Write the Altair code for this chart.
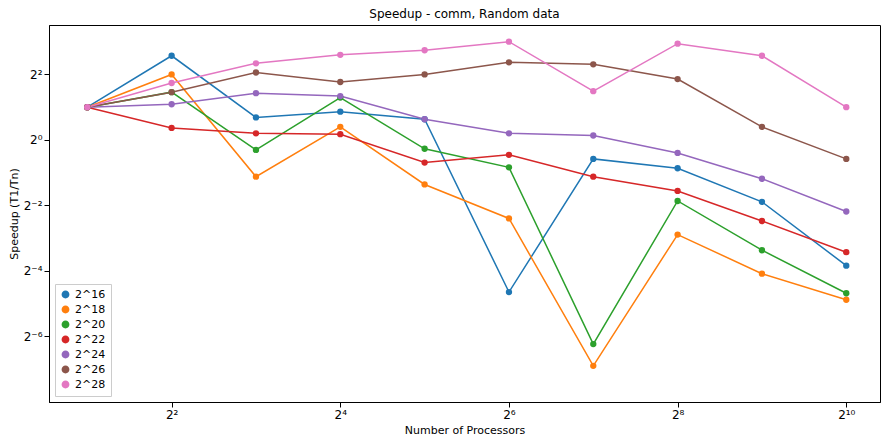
import altair as alt
import pandas as pd

processors = [2, 4, 8, 16, 32, 64, 128, 256, 512, 1024]
series_names = ["2^16", "2^18", "2^20", "2^22", "2^24", "2^26", "2^28"]
s16 = [2, 5.94, 1.61, 1.82, 1.55, 0.040, 0.67, 0.55, 0.27, 0.070]
s18 = [2, 4, 0.46, 1.32, 0.39, 0.19, 0.0084, 0.135, 0.059, 0.034]
s20 = [2, 2.75, 0.81, 2.45, 0.83, 0.56, 0.0133, 0.275, 0.097, 0.039]
s22 = [2, 1.29, 1.15, 1.13, 0.62, 0.73, 0.46, 0.34, 0.18, 0.093]
s24 = [2, 2.13, 2.69, 2.53, 1.55, 1.15, 1.10, 0.76, 0.44, 0.22]
s26 = [2, 2.75, 4.17, 3.41, 4, 5.17, 4.96, 3.63, 1.32, 0.67]
s28 = [2, 3.34, 5.06, 6.06, 6.68, 8, 2.81, 7.67, 5.94, 2]
colors = ["#1f77b4", "#ff7f0e", "#2ca02c", "#d62728", "#9467bd", "#8c564b", "#e377c2"]

rows = []
for name, vals in zip(series_names, [s16, s18, s20, s22, s24, s26, s28]):
    for p, v in zip(processors, vals):
        rows.append({"procs": p, "speedup": v, "size": name})
df = pd.DataFrame(rows)

sup = {"-": "⁻", "0": "⁰", "1": "¹", "2": "²", "3": "³", "4": "⁴",
       "5": "⁵", "6": "⁶", "7": "⁷", "8": "⁸", "9": "⁹"}


def label_expr(exps):
    expr = "''"
    for e in exps:
        txt = "2" + "".join(sup[c] for c in str(e))
        expr = f"abs(log(datum.value)/log(2) - ({e})) < 0.01 ? '{txt}' : " + expr
    return expr


xticks = [4, 16, 64, 256, 1024]
yticks = [2.0 ** e for e in [-6, -4, -2, 0, 2]]

axis_style = dict(grid=False, domainColor="black", tickColor="black",
                  labelColor="black", titleColor="black", labelFontSize=12,
                  titleFontSize=11, titleFontWeight="normal", labelFont="DejaVu Sans",
                  titleFont="DejaVu Sans")

chart = alt.Chart(df).mark_line(point=alt.OverlayMarkDef(size=40, filled=True, opacity=1),
                                strokeWidth=1.5).encode(
    x=alt.X("procs:Q", title="Number of Processors",
            scale=alt.Scale(type="log", base=2, domain=[1.46, 1351], nice=False),
            axis=alt.Axis(values=xticks, labelExpr=label_expr([2, 4, 6, 8, 10]), **axis_style)),
    y=alt.Y("speedup:Q", title="Speedup (T1/Tn)",
            scale=alt.Scale(type="log", base=2, domain=[2.0 ** -8, 2.0 ** 3.51], nice=False),
            axis=alt.Axis(values=yticks, labelExpr=label_expr([-6, -4, -2, 0, 2]), **axis_style)),
    color=alt.Color("size:N", sort=series_names,
                    scale=alt.Scale(domain=series_names, range=colors),
                    legend=alt.Legend(title=None, orient="bottom-left", symbolType="circle",
                                      symbolSize=40, labelFontSize=11, labelFont="DejaVu Sans",
                                      fillColor="white", strokeColor="#cccccc",
                                      padding=5, offset=6, rowPadding=2)),
).properties(
    width=874, height=429,
    autosize=alt.AutoSizeParams(type="fit", contains="padding"),
    title=alt.Title("Speedup - comm, Random data", fontSize=12, fontWeight="normal",
                    font="DejaVu Sans"),
    padding={"left": 0, "top": 0, "right": 2, "bottom": 2},
).configure_view(stroke="black")

chart.save("out.html", embed_options={"renderer": "svg", "actions": False})
